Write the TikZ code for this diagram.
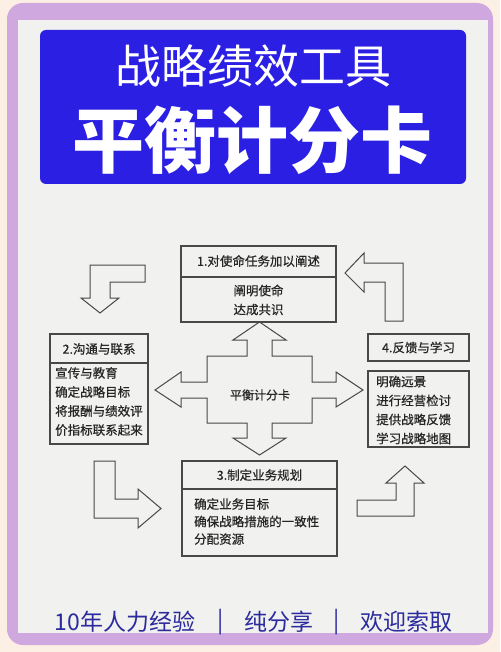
\documentclass[tikz,border=0pt]{standalone}
\usepackage{fontspec}
\setmainfont{Noto Sans CJK SC}
\newfontfamily\cjk{Noto Sans CJK SC}
\newfontfamily\cjkheavy[FakeBold=0.6]{Noto Sans CJK SC}
\usetikzlibrary{positioning}

\definecolor{peach}{HTML}{FCEFE3}
\definecolor{lilac}{HTML}{CFA8DF}
\definecolor{paper}{HTML}{F1F1EF}
\definecolor{titleblue}{HTML}{2A1FE3}
\definecolor{footblue}{HTML}{2B2B9E}
\definecolor{ink}{HTML}{484848}

\begin{document}
\begin{tikzpicture}[x=1pt,y=-1pt,
	boxline/.style={draw=ink, line width=1.1pt},
	blockarrow/.style={draw=ink, line width=1pt, line join=miter},
	boxtext/.style={text=black!85, font=\cjkheavy\fontsize{12.5}{19}\selectfont, inner sep=0pt}]

	% background and frame
	\fill[peach] (0,0) rectangle (500,652);
	\fill[lilac, rounded corners=16pt] (7,3) rectangle (493,645);
	\fill[paper] (18,20) rectangle (488,633);
	\useasboundingbox (0,0) rectangle (500,652);

	% title block
	\fill[titleblue, rounded corners=6pt] (40,30) rectangle (466,184);
	\node[text=white, font=\cjk\fontsize{46}{46}\selectfont] (toptitle) at (253,66) {战略绩效工具};
	\node[text=white, font=\cjk\bfseries\fontsize{72}{72}\selectfont] (bigtitle) at (252,140) {平衡计分卡};

	% 1. mission
	\draw[boxline] (181,246) rectangle (336,322);
	\draw[boxline] (181,277) -- (336,277);
	\node[boxtext] (mission) at (258.5,261) {1.对使命任务加以阐述};
	\node[boxtext, align=center] (missionitems) at (258.5,300) {阐明使命\\达成共识};

	% 2. communication
	\draw[boxline] (50,334) rectangle (148,444);
	\draw[boxline] (50,363) -- (148,363);
	\node[boxtext] (comm) at (99,349) {2.沟通与联系};
	\node[boxtext, align=left, anchor=west] (commitems) at (55,401.5) {宣传与教育\\确定战略目标\\将报酬与绩效评\\价指标联系起来};

	% 3. business plan
	\draw[boxline] (182,461) rectangle (337,556);
	\draw[boxline] (182,489) -- (337,489);
	\node[boxtext] (plan) at (259.5,475) {3.制定业务规划};
	\node[boxtext, align=left, anchor=west, font=\cjkheavy\fontsize{12.5}{17.5}\selectfont] (planitems) at (194,521.5) {确定业务目标\\确保战略措施的一致性\\分配资源};

	% 4. feedback
	\draw[boxline] (368,334) rectangle (469,361);
	\draw[boxline] (368,371) rectangle (469,447);
	\node[boxtext] (feedback) at (418.5,347.5) {4.反馈与学习};
	\node[boxtext, align=left, anchor=west] (feedbackitems) at (376,410) {明确远景\\进行经营检讨\\提供战略反馈\\学习战略地图};

	% cross arrow in the middle
	\draw[blockarrow] (259.5,322) -- (286,340) -- (272,340) -- (272,356) -- (312,356) -- (312,382)
		-- (336,382) -- (336,372) -- (363,390) -- (336,407) -- (336,398) -- (312,398) -- (312,423)
		-- (272,423) -- (272,438) -- (286,438) -- (259.5,455) -- (233,438) -- (247,438) -- (247,423)
		-- (207,423) -- (207,398) -- (181,398) -- (181,407) -- (155,390) -- (181,372) -- (181,382)
		-- (207,382) -- (207,356) -- (247,356) -- (247,340) -- (233,340) -- cycle;
	\node[text=black!85, font=\cjkheavy\fontsize{12}{12}\selectfont] (bsc) at (260,395) {平衡计分卡};

	% corner arrows
	\draw[blockarrow] (145,265) -- (90,265) -- (90,298) -- (81,298) -- (100,313) -- (119,298) -- (110,298) -- (110,282) -- (145,282) -- cycle;
	\draw[blockarrow] (345,273) -- (364,253) -- (364,263) -- (403,263) -- (403,321) -- (385,321) -- (385,282) -- (364,282) -- (364,292) -- cycle;
	\draw[blockarrow] (94,461) -- (115,461) -- (115,499) -- (138,499) -- (138,489) -- (161,508.5) -- (138,528) -- (138,518) -- (94,518) -- cycle;
	\draw[blockarrow] (405,466) -- (424,483) -- (414,483) -- (414,516) -- (357,516) -- (357,500) -- (396,500) -- (396,483) -- (386,483) -- cycle;

	% footer
	\node[text=footblue, font=\cjk\fontsize{23}{23}\selectfont] (exp) at (125,622) {10年人力经验};
	\node[text=footblue, font=\cjk\fontsize{23}{23}\selectfont] (bara) at (221,622) {|};
	\node[text=footblue, font=\cjk\fontsize{23}{23}\selectfont] (share) at (279,622) {纯分享};
	\node[text=footblue, font=\cjk\fontsize{23}{23}\selectfont] (barb) at (337,622) {|};
	\node[text=footblue, font=\cjk\fontsize{23}{23}\selectfont] (ask) at (406,622) {欢迎索取};

\end{tikzpicture}
\end{document}
